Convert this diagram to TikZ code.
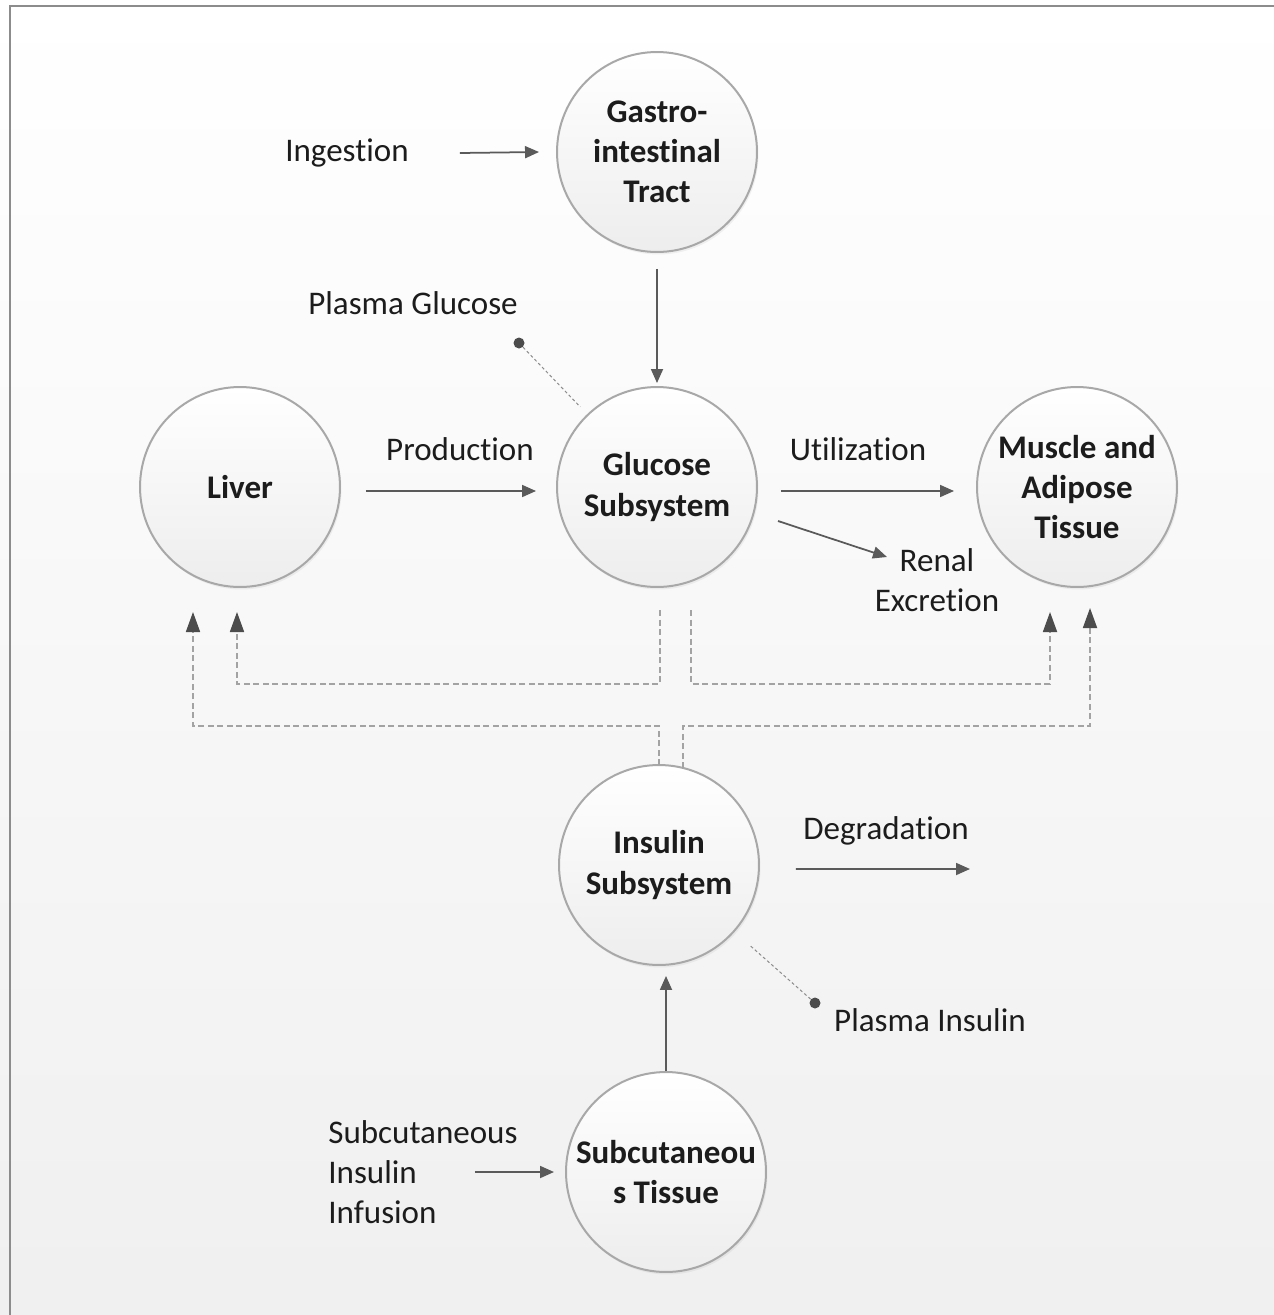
\documentclass[tikz,border=0pt]{standalone}
\usepackage{fontspec}
\setmainfont{Carlito}[Ligatures=NoCommon]
\usepackage{tikz}
\usetikzlibrary{arrows.meta,shadows}

\definecolor{rimgray}{HTML}{A8A8A8}
\definecolor{linegray}{HTML}{5A5A5A}
\definecolor{dashgray}{HTML}{A3A3A3}
\definecolor{framegray}{HTML}{8C8C8C}
\definecolor{textgray}{HTML}{1C1C1C}
\newcommand{\diagfont}{\fontsize{18.8}{22.8}\selectfont}

\begin{document}
\begin{tikzpicture}[x=0.02cm,y=-0.02cm,
  main node/.style={circle,draw=rimgray,line width=0.04cm,top color=white,bottom color=black!7,
    minimum size=4cm,inner sep=0pt,align=center,font=\diagfont\bfseries,text=textgray,
    drop shadow={opacity=0.1,shadow xshift=0.03cm,shadow yshift=-0.05cm}},
  label node/.style={inner sep=0pt,align=center,font=\diagfont,text=textgray},
  flow line/.style={draw=linegray,line width=0.035cm,-{Triangle[length=0.28cm,width=0.24cm]}},
  feedback line/.style={draw=dashgray,line width=0.035cm,dash pattern=on 0.12cm off 0.07cm,
    -{Triangle[length=0.4cm,width=0.28cm,color=black!70]}},
  probe line/.style={draw=black!45,line width=0.02cm,dash pattern=on 0.06cm off 0.05cm},
  probe dot/.style={circle,fill=black!70,inner sep=0pt,minimum size=0.22cm}]

  \useasboundingbox (0,0) rectangle (1274,1315);
  % background and frame
  \shade[top color=white,bottom color=black!6] (0,0) rectangle (1274,1315);
  \draw[framegray,line width=0.06cm] (10,1315) -- (10,6) -- (1274,6);

  \node[main node] (1) at (657,152) {Gastro-\\intestinal\\Tract};
  \node[main node] (2) at (657,487) {Glucose\\Subsystem};
  \node[main node] (3) at (240,487) {Liver};
  \node[main node] (4) at (1077,487) {Muscle and\\Adipose\\Tissue};
  \node[main node] (5) at (659,865) {Insulin\\Subsystem};
  \node[main node] (6) at (666,1172) {Subcutaneou\\s Tissue};

  \node[label node] (ingest) at (347,153) {Ingestion};
  \node[label node] (pglu) at (413,303) {Plasma Glucose};
  \node[label node] (prod) at (460,449) {Production};
  \node[label node] (util) at (858,449) {Utilization};
  \node[label node] (renal) at (937,580) {Renal\\Excretion};
  \node[label node] (degr) at (886,831) {Degradation};
  \node[label node] (pins) at (930,1020) {Plasma Insulin};
  \node[label node,anchor=west,align=left] (infus) at (328,1172) {Subcutaneous\\Insulin\\Infusion};

  \node[probe dot] (gdot) at (519,343) {};
  \node[probe dot] (idot) at (815,1003) {};
  \coordinate (degr end) at (970,869);

  % flows
  \draw[flow line] ([xshift=2.26cm]ingest.center) -- ([xshift=-0.34cm]1.west);
  \draw[flow line] ([yshift=-0.32cm]1.south) -- ([yshift=0.06cm]2.north);
  \draw[flow line] ([shift={(0.5cm,-0.08cm)}]3.east) -- ([shift={(-0.4cm,-0.08cm)}]2.west);
  \draw[flow line] ([shift={(0.46cm,-0.08cm)}]2.east) -- ([shift={(-0.44cm,-0.08cm)}]4.west);
  \draw[flow line] ([shift={(121,34)}]2.center) -- ([shift={(-50,-23)}]renal.center);
  \draw[flow line] ([shift={(0.72cm,-0.08cm)}]5.east) -- (degr end);
  \draw[flow line] (6.north) -- ([yshift=-0.2cm]6.north |- 5.south);
  \draw[flow line] ([xshift=2.94cm]infus.west) -- ([xshift=-0.22cm]6.west);

  % insulin and glucose feedback
  \draw[feedback line] ([shift={(3,123)}]2.center) |- ([shift={(-3,197)}]3.center) -- ([shift={(-3,125)}]3.center);
  \draw[feedback line] ([shift={(34,123)}]2.center) |- ([shift={(-27,197)}]4.center) -- ([shift={(-27,125)}]4.center);
  \draw[feedback line] ([shift={(0,-100)}]5.center) |- ([shift={(-47,239)}]3.center) -- ([shift={(-47,125)}]3.center);
  \draw[feedback line] ([shift={(24,-97)}]5.center) |- ([shift={(13,239)}]4.center) -- ([shift={(13,121)}]4.center);

  % measured quantities
  \draw[probe line,shorten >=0.2cm] (gdot) -- (2);
  \draw[probe line,shorten >=0.4cm] (idot) -- (5);
\end{tikzpicture}
\end{document}
